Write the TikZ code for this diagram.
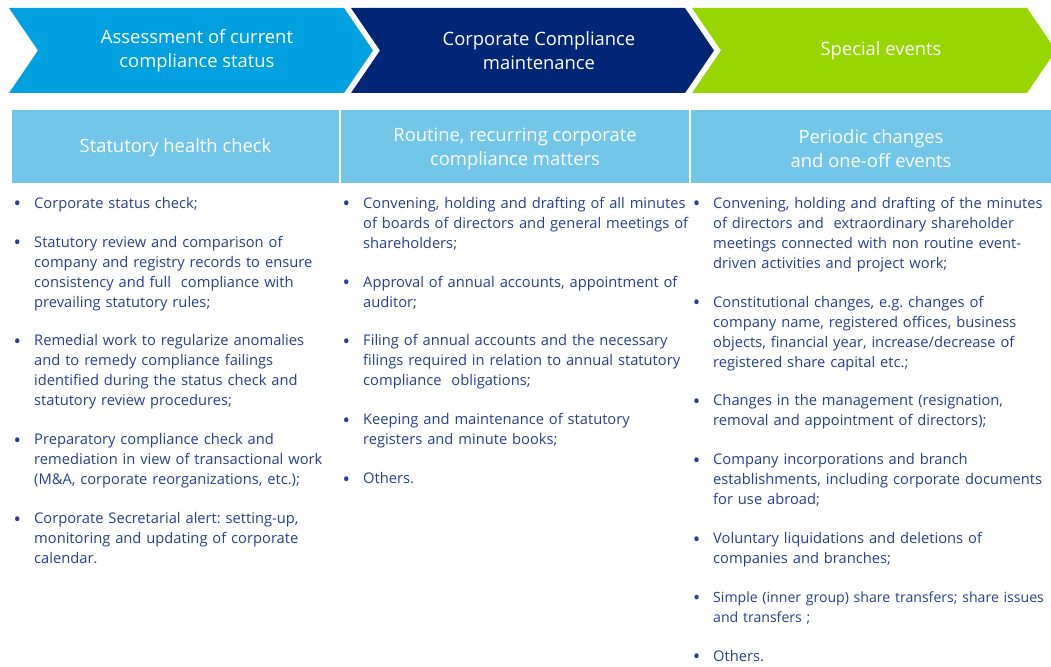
\documentclass[tikz,border=0pt]{standalone}
\usepackage{fontspec}
\setmainfont{Open Sans}
\usetikzlibrary{positioning}

\definecolor{chevblue}{RGB}{0,161,222}
\definecolor{chevnavy}{RGB}{1,38,118}
\definecolor{chevgreen}{RGB}{151,214,0}
\definecolor{headblue}{RGB}{114,198,231}
\definecolor{itemblue}{RGB}{37,64,143}

\newcommand{\bulletmark}{\noindent\leavevmode\llap{\raisebox{-2.6pt}{\scalebox{1.35}{\textbullet}}\hspace{13pt}}\strut}
\frenchspacing

\begin{document}
\begin{tikzpicture}[x=1pt, y=-1pt,
    % Node styles
    chevtext/.style={
        text=white, align=center, inner sep=0pt,
        font=\fontsize{18.4}{24}\selectfont,
      },
    bulletitem/.style={
        text width=380pt, align=left, inner sep=0pt, text=itemblue,
        font=\fontsize{14.7}{20}\selectfont,
      },
    % spacing between two bullet points
    next item/.style={below=18.4pt of #1},
  ]
  \useasboundingbox (0,0) rectangle (1051,666);

  % --- Chevrons along the top ---
  \foreach \xl/\xr/\col in {9/344/chevblue, 351/685/chevnavy, 692/1027/chevgreen} {
      \fill[\col] (\xl,8) -- (\xr,8) -- (\xr+29,50.5) -- (\xr,93)
        -- (\xl,93) -- (\xl+29,50.5) -- cycle;
    }
  \node[chevtext] (assess) at (197,51) {Assessment of current\\compliance status};
  \node[chevtext] (maint) at (539,51) {Corporate Compliance\\maintenance};
  \node[chevtext] (special) at (881,50.5) {Special events};

  % --- Column headers ---
  \foreach \xl/\xr in {12/339, 341/689, 691/1053} {
      \fill[headblue] (\xl,110) rectangle (\xr,183);
    }
  \node[chevtext] (health) at (175.5,148) {Statutory health check};
  \node[chevtext] (routine) at (515,149) {Routine, recurring corporate\\compliance matters};
  \node[chevtext] (periodic) at (871,149) {Periodic changes\\and one-off events};

  % --- First column ---
  \node[bulletitem, anchor=north west] (a1) at (34,194)
  {\bulletmark Corporate status check;\strut};
  \node[bulletitem, next item=a1] (a2)
  {\bulletmark Statutory review and comparison of\newline company and registry records to ensure\newline consistency and full\ \ compliance with\newline prevailing statutory rules;\strut};
  \node[bulletitem, next item=a2] (a3)
  {\bulletmark Remedial work to regularize anomalies\newline and to remedy compliance failings\newline identified during the status check and\newline statutory review procedures;\strut};
  \node[bulletitem, next item=a3] (a4)
  {\bulletmark Preparatory compliance check and\newline remediation in view of transactional work\newline (M\&A, corporate reorganizations, etc.);\strut};
  \node[bulletitem, next item=a4] (a5)
  {\bulletmark Corporate Secretarial alert: setting-up,\newline monitoring and updating of corporate\newline calendar.\strut};

  % --- Second column ---
  \node[bulletitem, anchor=north west] (b1) at (363,194)
  {\bulletmark Convening, holding and drafting of all minutes\newline of boards of directors and general meetings of\newline shareholders;\strut};
  \node[bulletitem, next item=b1] (b2)
  {\bulletmark Approval of annual accounts, appointment of\newline auditor;\strut};
  \node[bulletitem, next item=b2] (b3)
  {\bulletmark Filing of annual accounts and the necessary\newline filings required in relation to annual statutory\newline compliance\ \ obligations;\strut};
  \node[bulletitem, next item=b3] (b4)
  {\bulletmark Keeping and maintenance of statutory\newline registers and minute books;\strut};
  \node[bulletitem, next item=b4] (b5)
  {\bulletmark Others.\strut};

  % --- Third column ---
  \node[bulletitem, anchor=north west] (c1) at (713,194)
  {\bulletmark Convening, holding and drafting of the minutes\newline of directors and\ \ extraordinary shareholder\newline meetings connected with non routine event-\newline driven activities and project work;\strut};
  \node[bulletitem, next item=c1] (c2)
  {\bulletmark Constitutional changes, e.g. changes of\newline company name, registered offices, business\newline objects, financial year, increase/decrease of\newline registered share capital etc.;\strut};
  \node[bulletitem, next item=c2] (c3)
  {\bulletmark Changes in the management (resignation,\newline removal and appointment of directors);\strut};
  \node[bulletitem, next item=c3] (c4)
  {\bulletmark Company incorporations and branch\newline establishments, including corporate documents\newline for use abroad;\strut};
  \node[bulletitem, next item=c4] (c5)
  {\bulletmark Voluntary liquidations and deletions of\newline companies and branches;\strut};
  % this one runs close to the right edge, so it is set a little narrower
  \node[bulletitem, next item=c5, font=\fontsize{14.1}{20}\selectfont] (c6)
  {\bulletmark Simple (inner group) share transfers; share issues\newline and transfers ;\strut};
  \node[bulletitem, next item=c6] (c7)
  {\bulletmark Others.\strut};
\end{tikzpicture}
\end{document}
